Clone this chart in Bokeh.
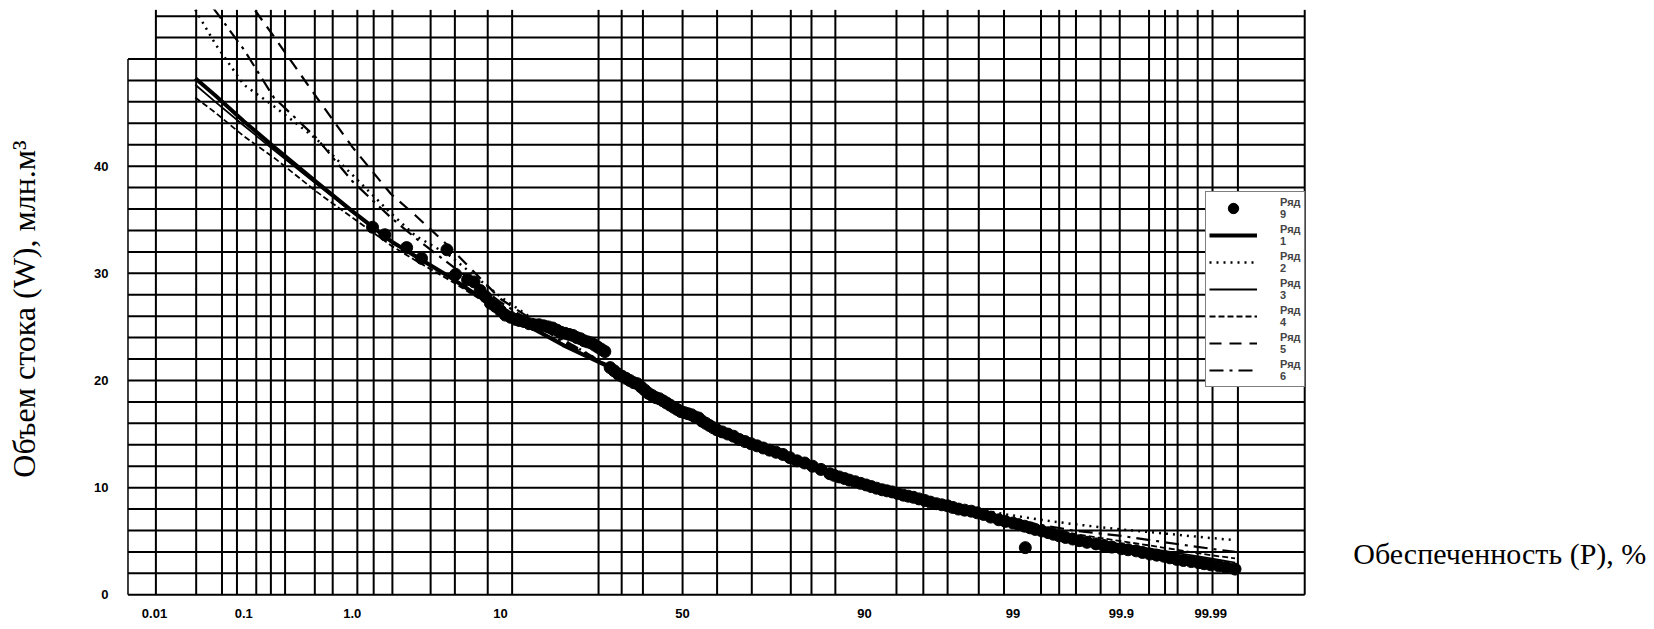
from statistics import NormalDist
from bokeh.plotting import figure
from bokeh.models import FixedTicker, Legend, LegendItem, Label, Range1d
from bokeh.embed import file_html
from bokeh.resources import INLINE

ND = NormalDist()


def zp(pct):
    """position on normal probability paper for an exceedance probability in %"""
    return ND.inv_cdf(pct / 100.0)


# ---------------- data ----------------
# probability-paper grid (exceedance probability, %)
GRID_P = [0.0104, 0.0307, 0.059, 0.085, 0.134, 0.187, 0.256, 0.48, 0.687, 1.1,
          1.48, 2.05, 3.8, 5.44, 8.5, 11.5, 27.7, 33.4, 39.0, 50.0, 59.6, 68.7,
          77.7, 81.8, 85.9, 93.4, 95.5, 96.9, 98.15, 98.82, 99.42, 99.60, 99.72,
          99.838, 99.896, 99.949, 99.966, 99.9755, 99.9857, 99.9905, 99.9954,
          99.99941]
PAPER_LEFT_P = 0.0047      # where the value axis stands
H_LEVELS = list(range(0, 56, 2))
VALUE_AXIS_TOP = 50

TICK_P = [0.01, 0.1, 1.0, 10, 50, 90, 99, 99.9, 99.99]
TICK_LABELS = ["0.01", "0.1", "1.0", "10", "50", "90", "99", "99.9", "99.99"]
Y_TICKS = [0, 10, 20, 30, 40]

# fitted curves, W (млн.м3) at exceedance probability P (%)
P_CURVE = [0.03, 0.05, 0.1, 0.2, 0.5, 1, 2, 3, 5, 10, 20, 30, 40, 50, 60, 70,
           80, 90, 95, 97, 99, 99.5, 99.7, 99.9, 99.95, 99.99, 99.995]
W_RYAD1 = [48.2, 46.6, 44.2, 41.8, 38.5, 35.8, 33.0, 31.6, 29.7, 26.5, 23.3, 21.3,
           18.7, 17.0, 15.3, 13.9, 12.3, 10.4, 9.0, 8.1, 6.6, 5.8, 5.2, 4.3, 3.9,
           2.9, 2.4]
W_RYAD2 = [54.6, 51.4, 47.6, 45.6, 42.5, 39.2, 35.6, 33.5, 31.7, 27.8, 23.8, 21.4,
           18.8, 17.0, 15.4, 14.0, 12.5, 10.6, 9.2, 8.4, 7.4, 6.9, 6.6, 6.1, 5.85,
           5.3, 5.1]
W_RYAD3 = [47.6, 46.0, 43.8, 41.5, 38.3, 35.7, 33.0, 31.6, 29.7, 26.6, 23.4, 21.3,
           18.7, 17.0, 15.3, 13.9, 12.3, 10.5, 9.1, 8.2, 6.7, 6.0, 5.5, 4.7, 4.3,
           3.4, 3.0]
W_RYAD4 = [46.4, 45.0, 42.8, 40.8, 37.6, 35.2, 32.6, 31.2, 29.4, 26.4, 23.3, 21.3,
           18.7, 17.0, 15.3, 13.9, 12.3, 10.5, 9.2, 8.3, 6.8, 6.1, 5.7, 5.0, 4.6,
           3.7, 3.4]
W_RYAD5 = [62.0, 59.5, 56.0, 52.1, 46.4, 41.8, 37.4, 35.4, 32.5, 27.6, 23.8, 21.4,
           18.8, 17.0, 15.3, 13.9, 12.3, 10.4, 9.0, 8.1, 6.6, 5.9, 5.4, 4.6, 4.2,
           3.2, 2.8]
W_RYAD6 = [57.0, 54.5, 50.9, 46.4, 42.6, 38.6, 35.2, 33.3, 30.9, 27.3, 23.6, 21.4,
           18.8, 17.0, 15.3, 13.9, 12.3, 10.5, 9.1, 8.3, 7.0, 6.4, 6.0, 5.5, 5.1,
           4.3, 4.0]

# observed values (Ряд 9)
P_OBS = [1.45, 1.8, 2.6, 3.3, 4.85, 5.5, 6.5, 7.1, 7.7, 8.3, 8.8, 9.4, 10.0, 10.6,
         11.3, 12.0, 12.5, 13.2, 14.0, 14.8, 15.6, 16.4, 17.2, 18.0, 18.8, 19.6,
         20.4, 21.2, 22.0, 22.8, 23.6, 24.4, 25.2, 26.0, 26.8, 27.6, 28.4, 29.2,
         30.5, 31.5, 32.5, 33.5, 34.5, 35.5, 36.5, 37.5, 38.5, 39.5, 40.5, 41.5,
         42.5, 43.5, 44.5, 45.5, 46.5, 47.5, 48.5, 49.5, 50.5, 51.5, 52.5, 53.5,
         54.5, 55.5, 56.5, 57.5, 58.5, 59.5, 61.0, 62.5, 64.0, 65.5, 67.0, 68.5,
         70.0, 71.5, 73.0, 74.5, 76.0, 77.5, 79.0, 80.5, 82.0, 83.5, 85.0, 85.7,
         86.5, 87.3, 88.0, 88.8, 89.5, 90.2, 90.8, 91.4, 92.0, 92.5, 93.0, 93.5,
         94.0, 94.4, 94.8, 95.2, 95.6, 95.95, 96.3, 96.6, 96.9, 97.15, 97.4, 97.65,
         97.9, 98.1, 98.3, 98.5, 98.7, 98.85, 99.0, 99.1, 99.2, 99.21, 99.28,
         99.35, 99.43, 99.5, 99.55, 99.6, 99.65, 99.7, 99.74, 99.78, 99.82, 99.85,
         99.875, 99.9, 99.915, 99.93, 99.94, 99.95, 99.958, 99.965, 99.97, 99.975,
         99.979, 99.983, 99.986, 99.988, 99.990, 99.992, 99.9935, 99.995]
W_OBS = [34.3, 33.6, 32.4, 31.4, 32.2, 29.9, 29.4, 29.2, 28.4, 27.8, 27.2, 26.9,
         26.5, 26.1, 25.9, 25.7, 25.6, 25.5, 25.3, 25.2, 25.2, 25.1, 25.0, 24.9,
         24.7, 24.5, 24.4, 24.3, 24.2, 24.0, 23.9, 23.7, 23.6, 23.5, 23.3, 23.1,
         22.9, 22.7, 21.2, 20.9, 20.6, 20.4, 20.2, 20.0, 19.8, 19.7, 19.4, 19.1,
         18.8, 18.6, 18.4, 18.3, 18.1, 17.9, 17.7, 17.5, 17.3, 17.1, 17.0, 16.9,
         16.8, 16.6, 16.5, 16.2, 16.0, 15.8, 15.6, 15.4, 15.2, 15.0, 14.8, 14.5,
         14.3, 14.1, 13.9, 13.7, 13.5, 13.3, 13.1, 12.8, 12.5, 12.3, 12.0, 11.7,
         11.3, 11.15, 11.0, 10.85, 10.7, 10.55, 10.4, 10.25, 10.1, 9.95, 9.8, 9.7,
         9.6, 9.45, 9.3, 9.2, 9.1, 8.95, 8.8, 8.65, 8.5, 8.4, 8.3, 8.15, 8.0, 7.9,
         7.8, 7.65, 7.5, 7.25, 7.0, 6.85, 6.7, 6.55, 6.4, 4.4, 6.25, 6.1, 5.95,
         5.8, 5.65, 5.5, 5.35, 5.2, 5.05, 4.9, 4.75, 4.6, 4.45, 4.3, 4.2, 4.1,
         3.95, 3.8, 3.7, 3.6, 3.45, 3.3, 3.2, 3.1, 3.0, 2.9, 2.8, 2.7, 2.55, 2.4]

SERIES = [
    ("Ряд\n1", P_CURVE, W_RYAD1, dict(line_width=4)),
    ("Ряд\n2", P_CURVE, W_RYAD2, dict(line_width=2.5, line_dash="2 5")),
    ("Ряд\n3", P_CURVE, W_RYAD3, dict(line_width=1.8)),
    ("Ряд\n4", P_CURVE, W_RYAD4, dict(line_width=1.8, line_dash="6 3")),
    ("Ряд\n5", P_CURVE, W_RYAD5, dict(line_width=2.2, line_dash="12 8")),
    ("Ряд\n6", P_CURVE, W_RYAD6, dict(line_width=2.2, line_dash="14 6 3 6")),
]

# ---------------- figure ----------------
PX_PER_Z = 142.0
W_FIG, H_FIG = 1654, 629
B_LEFT, B_TOP, B_BOTTOM = 126, 9, 29
x0 = zp(0.0045)
p = figure(width=W_FIG, height=H_FIG, output_backend="svg", toolbar_location=None,
           x_range=Range1d(x0, x0 + (W_FIG - B_LEFT) / PX_PER_Z),
           y_range=Range1d(-0.532, 54.62),
           min_border_left=B_LEFT, min_border_right=0, min_border_top=B_TOP,
           min_border_bottom=B_BOTTOM)
p.outline_line_color = None
p.grid.visible = False
p.background_fill_color = "white"

# probability paper
x_left = zp(PAPER_LEFT_P)
x_right = zp(GRID_P[-1])
vx = [zp(v) for v in GRID_P]
p.segment(x0=vx, y0=[0] * len(vx), x1=vx, y1=[54.6] * len(vx),
          line_color="black", line_width=2)
hx0 = [x_left if h <= VALUE_AXIS_TOP else zp(GRID_P[0]) for h in H_LEVELS]
p.segment(x0=hx0, y0=H_LEVELS, x1=[x_right] * len(H_LEVELS), y1=H_LEVELS,
          line_color="black", line_width=2)
p.segment(x0=[x_left], y0=[0], x1=[x_left], y1=[VALUE_AXIS_TOP],
          line_color="black", line_width=1.5)

items = []
sc = p.scatter([zp(v) for v in P_OBS], W_OBS, size=12, color="black")
items.append(LegendItem(label="Ряд\n9", renderers=[sc]))
for name, px, wy, style in SERIES:
    r = p.line([zp(v) for v in px], wy, line_color="black", **style)
    items.append(LegendItem(label=name, renderers=[r]))

legend = Legend(items=items, location=(1079, 213), border_line_color="black",
                border_line_width=1.5, background_fill_color="white",
                background_fill_alpha=1.0, padding=3, margin=0, spacing=1,
                glyph_width=48, glyph_height=26, label_height=26,
                label_standoff=23, label_text_font="Liberation Sans",
                label_text_font_size="11px", label_text_font_style="bold",
                label_text_line_height=1.0)
p.add_layout(legend)

# axes
p.xaxis.ticker = FixedTicker(ticks=[zp(v) for v in TICK_P])
p.xaxis.major_label_overrides = {zp(v): lab for v, lab in zip(TICK_P, TICK_LABELS)}
p.yaxis.ticker = FixedTicker(ticks=Y_TICKS)
for ax in (p.xaxis[0], p.yaxis[0]):
    ax.axis_line_color = None
    ax.major_tick_line_color = None
    ax.minor_tick_line_color = None
    ax.major_tick_out = 0
    ax.major_label_text_font = "Liberation Sans"
    ax.major_label_text_font_size = "13px"
    ax.major_label_text_font_style = "bold"
    ax.major_label_text_color = "black"
p.xaxis.major_label_standoff = 8
p.yaxis.major_label_standoff = 18
p.yaxis.axis_label = "Объем стока  (W), млн.м³"
p.yaxis.axis_label_text_font = "Liberation Serif"
p.yaxis.axis_label_text_font_size = "32px"
p.yaxis.axis_label_text_font_style = "normal"
p.yaxis.axis_label_text_color = "black"
p.yaxis.axis_label_standoff = 49

p.add_layout(Label(x=4.723, y=3.83, text="Обеспеченность (Р), %",
                   text_font="Liberation Serif", text_font_size="30px",
                   text_color="black", text_align="left",
                   text_baseline="alphabetic"))

open("out.html", "w").write(file_html(p, INLINE))
